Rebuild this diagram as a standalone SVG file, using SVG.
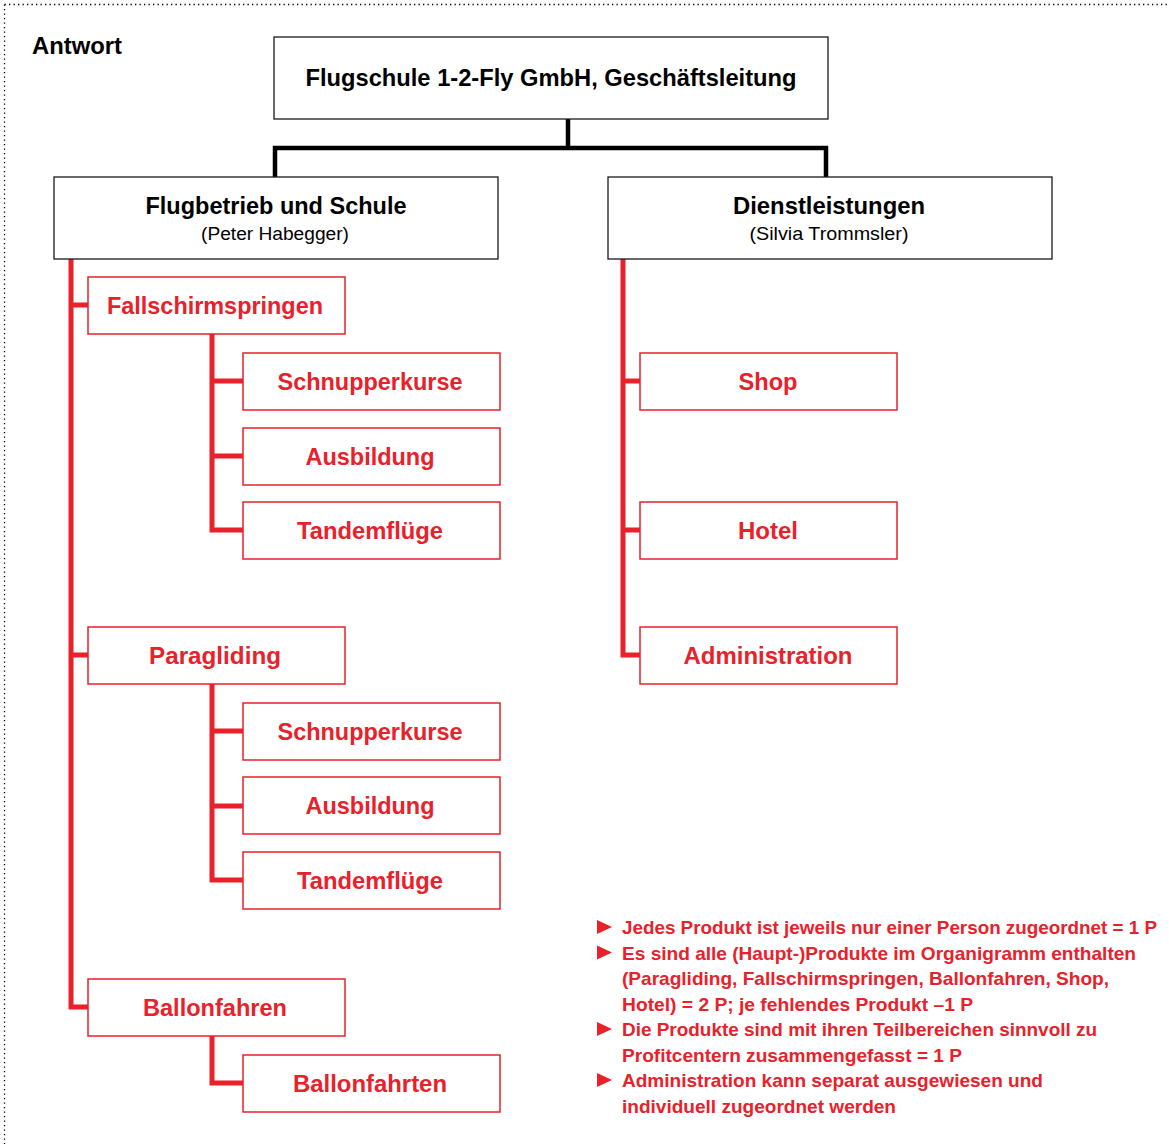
<svg xmlns="http://www.w3.org/2000/svg" width="1169" height="1144" viewBox="0 0 1169 1144">
<style>
.bg{fill:#fff}
.frame{stroke:#000;stroke-width:1.3;stroke-dasharray:1.3 3.2;fill:none}
.kbox{fill:#fff;stroke:#1a1a1a;stroke-width:1.3}
.rbox{fill:#fff;stroke:#e8212b;stroke-width:1.5}
.kline{stroke:#000;stroke-width:4.5;fill:none;stroke-linejoin:miter}
.rline{stroke:#e8212b;stroke-width:5;fill:none;stroke-linejoin:miter}
text{font-family:"Liberation Sans",Arial,sans-serif}
.t{font-size:24px;font-weight:bold;fill:#000;text-anchor:middle}
.s{font-size:18px;fill:#000;text-anchor:middle}
.r{font-size:24px;font-weight:bold;fill:#e8212b;text-anchor:middle}
.n{font-size:19px;font-weight:bold;fill:#e8212b}
.tri{fill:#e8212b}
</style>
<rect class="bg" x="0" y="0" width="1169" height="1144"/>
<path class="frame" d="M4.5,4.5 H1169 M4.5,4.5 V1144"/>
<text x="32" y="54" style="font-size:24px;font-weight:bold" textLength="90" lengthAdjust="spacingAndGlyphs">Antwort</text>

<g id="connectors">
<path class="kline" d="M568,119 V148 M275,177 V148 H826 V177"/>
<path class="rline" d="M71,259 V1007 H88 M71,305 H88 M71,655 H88"/>
<path class="rline" d="M212,334 V530 H243 M212,381 H243 M212,456 H243"/>
<path class="rline" d="M212,684 V880 H243 M212,731 H243 M212,806 H243"/>
<path class="rline" d="M212,1036 V1083 H243"/>
<path class="rline" d="M623,259 V655 H640 M623,381 H640 M623,530 H640"/>
</g>

<g id="gl">
<rect class="kbox" x="274" y="37" width="554" height="82"/>
<text class="t" x="551" y="86" textLength="491" lengthAdjust="spacingAndGlyphs">Flugschule 1-2-Fly GmbH, Geschäftsleitung</text>
</g>
<g id="flugbetrieb">
<rect class="kbox" x="54" y="177" width="444" height="82"/>
<text class="t" x="276" y="214" textLength="261" lengthAdjust="spacingAndGlyphs">Flugbetrieb und Schule</text>
<text class="s" x="275" y="240" textLength="148" lengthAdjust="spacingAndGlyphs">(Peter Habegger)</text>
</g>
<g id="dienstleistungen">
<rect class="kbox" x="608" y="177" width="444" height="82"/>
<text class="t" x="829" y="214" textLength="192" lengthAdjust="spacingAndGlyphs">Dienstleistungen</text>
<text class="s" x="829" y="240" textLength="159" lengthAdjust="spacingAndGlyphs">(Silvia Trommsler)</text>
</g>

<g id="fallschirm">
<rect class="rbox" x="88" y="277" width="257" height="57"/>
<text class="r" x="215" y="314" textLength="216" lengthAdjust="spacingAndGlyphs">Fallschirmspringen</text>
</g>
<g id="fs-schnupper">
<rect class="rbox" x="243" y="353" width="257" height="57"/>
<text class="r" x="370" y="390" textLength="185" lengthAdjust="spacingAndGlyphs">Schnupperkurse</text>
</g>
<g id="fs-ausbildung">
<rect class="rbox" x="243" y="428" width="257" height="57"/>
<text class="r" x="370" y="465" textLength="129" lengthAdjust="spacingAndGlyphs">Ausbildung</text>
</g>
<g id="fs-tandem">
<rect class="rbox" x="243" y="502" width="257" height="57"/>
<text class="r" x="370" y="539" textLength="146" lengthAdjust="spacingAndGlyphs">Tandemflüge</text>
</g>

<g id="paragliding">
<rect class="rbox" x="88" y="627" width="257" height="57"/>
<text class="r" x="215" y="664" textLength="132" lengthAdjust="spacingAndGlyphs">Paragliding</text>
</g>
<g id="pg-schnupper">
<rect class="rbox" x="243" y="703" width="257" height="57"/>
<text class="r" x="370" y="740" textLength="185" lengthAdjust="spacingAndGlyphs">Schnupperkurse</text>
</g>
<g id="pg-ausbildung">
<rect class="rbox" x="243" y="777" width="257" height="57"/>
<text class="r" x="370" y="814" textLength="129" lengthAdjust="spacingAndGlyphs">Ausbildung</text>
</g>
<g id="pg-tandem">
<rect class="rbox" x="243" y="852" width="257" height="57"/>
<text class="r" x="370" y="889" textLength="146" lengthAdjust="spacingAndGlyphs">Tandemflüge</text>
</g>

<g id="ballon">
<rect class="rbox" x="88" y="979" width="257" height="57"/>
<text class="r" x="215" y="1016" textLength="144" lengthAdjust="spacingAndGlyphs">Ballonfahren</text>
</g>
<g id="ballonfahrten">
<rect class="rbox" x="243" y="1055" width="257" height="57"/>
<text class="r" x="370" y="1092" textLength="154" lengthAdjust="spacingAndGlyphs">Ballonfahrten</text>
</g>

<g id="shop">
<rect class="rbox" x="640" y="353" width="257" height="57"/>
<text class="r" x="768" y="390" textLength="59" lengthAdjust="spacingAndGlyphs">Shop</text>
</g>
<g id="hotel">
<rect class="rbox" x="640" y="502" width="257" height="57"/>
<text class="r" x="768" y="539" textLength="60" lengthAdjust="spacingAndGlyphs">Hotel</text>
</g>
<g id="administration">
<rect class="rbox" x="640" y="627" width="257" height="57"/>
<text class="r" x="768" y="664" textLength="169" lengthAdjust="spacingAndGlyphs">Administration</text>
</g>

<g id="notes">
<polygon class="tri" points="597,920 612,927 597,934"/>
<polygon class="tri" points="597,945.5 612,952.5 597,959.5"/>
<polygon class="tri" points="597,1022 612,1029 597,1036"/>
<polygon class="tri" points="597,1073 612,1080 597,1087"/>
<text class="n" x="622" y="934" textLength="535" lengthAdjust="spacingAndGlyphs">Jedes Produkt ist jeweils nur einer Person zugeordnet = 1 P</text>
<text class="n" x="622" y="959.5" textLength="514" lengthAdjust="spacingAndGlyphs">Es sind alle (Haupt-)Produkte im Organigramm enthalten</text>
<text class="n" x="622" y="985" textLength="487" lengthAdjust="spacingAndGlyphs">(Paragliding, Fallschirmspringen, Ballonfahren, Shop,</text>
<text class="n" x="622" y="1010.5" textLength="351" lengthAdjust="spacingAndGlyphs">Hotel) = 2 P; je fehlendes Produkt –1 P</text>
<text class="n" x="622" y="1036" textLength="475" lengthAdjust="spacingAndGlyphs">Die Produkte sind mit ihren Teilbereichen sinnvoll zu</text>
<text class="n" x="622" y="1061.5" textLength="340" lengthAdjust="spacingAndGlyphs">Profitcentern zusammengefasst = 1 P</text>
<text class="n" x="622" y="1087" textLength="421" lengthAdjust="spacingAndGlyphs">Administration kann separat ausgewiesen und</text>
<text class="n" x="622" y="1112.5" textLength="274" lengthAdjust="spacingAndGlyphs">individuell zugeordnet werden</text>
</g>
</svg>
